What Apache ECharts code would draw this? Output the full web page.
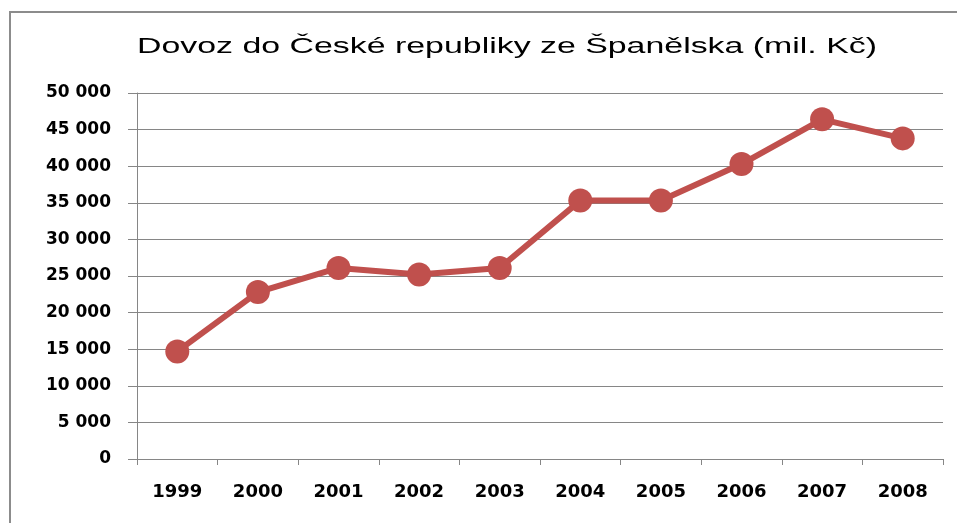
<!DOCTYPE html>
<html>
<head>
    <meta charset="utf-8">
    <title>Dovoz do České republiky ze Španělska</title>
    <script src="https://cdn.jsdelivr.net/npm/echarts@6/dist/echarts.min.js"></script>
    <style>
        html, body { margin: 0; padding: 0; background: #fff; }
        #main { width: 957px; height: 523px; }
    </style>
</head>
<body>
<div id="main"></div>
<script>
// data
var years = ['1999', '2000', '2001', '2002', '2003', '2004', '2005', '2006', '2007', '2008'];
var dovoz = [14700, 22800, 26100, 25200, 26100, 35300, 35300, 40300, 46400, 43800];
var yMin = 0;
var yMax = 50000;
var yStep = 5000;
var titleText = 'Dovoz do České republiky ze Španělska (mil. Kč)';

var red = '#c0504d';
var gray = '#868686';

// "50 000" style of thousands
function czNum(v) {
    return String(v).replace(/\B(?=(\d{3})+(?!\d))/g, ' ');
}

var chart = echarts.init(document.getElementById('main'));

option = {
    backgroundColor: '#fff',
    animation: false,
    graphic: [{
        type: 'rect',
        shape: { x: 10, y: 12, width: 980, height: 540 },
        style: { fill: 'none', stroke: '#8c8c8c', lineWidth: 2 },
        silent: true
    }, {
        type: 'text',
        x: 507,
        y: 47,
        scaleX: 1.54,
        style: {
            text: titleText,
            font: '22px "Liberation Sans", Arial, sans-serif',
            fill: '#000',
            textAlign: 'center',
            textVerticalAlign: 'middle'
        },
        silent: true
    }],
    grid: {
        left: 137,
        right: 14,
        top: 93,
        bottom: 64
    },
    xAxis: {
        type: 'category',
        data: years,
        boundaryGap: true,
        axisLine: { show: true, lineStyle: { color: gray, width: 1 } },
        axisTick: { show: true, length: 6, lineStyle: { color: gray } },
        axisLabel: {
            margin: 24,
            color: '#000',
            fontFamily: '"DejaVu Sans", sans-serif',
            fontWeight: 'bold',
            fontSize: 18
        },
        splitLine: { show: false }
    },
    yAxis: {
        type: 'value',
        min: yMin,
        max: yMax,
        interval: yStep,
        axisLine: { show: true, lineStyle: { color: gray, width: 1 } },
        axisTick: { show: true, length: 9, lineStyle: { color: gray } },
        axisLabel: {
            margin: 26,
            color: '#000',
            fontFamily: '"DejaVu Sans", sans-serif',
            fontWeight: 'bold',
            fontSize: 17,
            formatter: czNum
        },
        splitLine: { show: true, lineStyle: { color: gray, width: 1 } }
    },
    series: [{
        name: 'Dovoz',
        type: 'line',
        data: dovoz,
        symbol: 'circle',
        symbolSize: 24,
        itemStyle: { color: red, borderWidth: 0 },
        lineStyle: { color: red, width: 6 },
        emphasis: { disabled: true }
    }]
};
chart.setOption(option);
</script>
</body>
</html>
